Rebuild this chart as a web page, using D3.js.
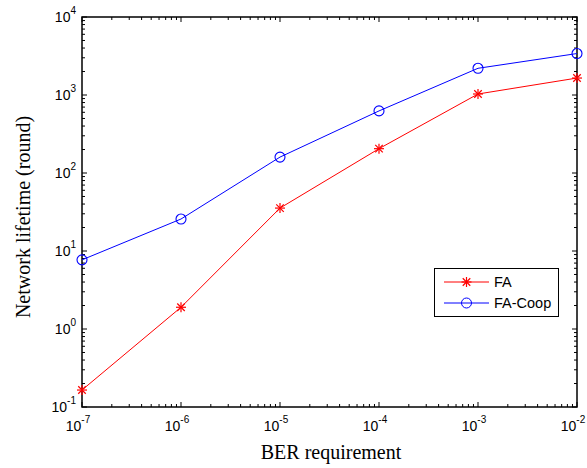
<!DOCTYPE html>
<html>
<head>
<meta charset="utf-8">
<script src="https://cdn.jsdelivr.net/npm/d3@7"></script>
<style>
body { margin: 0; background: #fff; }
svg { display: block; }
.tick-label { font-family: "Liberation Sans", Arial, sans-serif; font-size: 14px; fill: #000; }
.axis-label { font-family: "Liberation Serif", "Times New Roman", serif; font-size: 20px; fill: #000; }
.legend-text { font-family: "Liberation Sans", Arial, sans-serif; font-size: 14.5px; fill: #000; }
</style>
</head>
<body>
<svg id="chart" width="587" height="468"></svg>
<script>
// data
const ber = [1e-7, 1e-6, 1e-5, 1e-4, 1e-3, 1e-2];
const fa = [0.165, 1.9, 35.5, 205, 1030, 1650];
const faCoop = [7.7, 25.7, 160, 625, 2200, 3400];
const xExp = [-7, -6, -5, -4, -3, -2];
const yExp = [-1, 0, 1, 2, 3, 4];

const svg = d3.select("#chart");
const mLeft = 82, mRight = 577, mTop = 17, mBottom = 407;

const x = d3.scaleLog().domain([1e-7, 1e-2]).range([mLeft, mRight]);
const y = d3.scaleLog().domain([1e-1, 1e4]).range([mBottom, mTop]);

svg.append("rect").attr("width", 587).attr("height", 468).attr("fill", "#fff");

// minor + major ticks, inward on all sides
function minors(lo, hi) {
  let out = [];
  for (let e = lo; e < hi; e++)
    for (let k = 2; k <= 9; k++) out.push(k * Math.pow(10, e));
  return out;
}
const xMinor = minors(-7, -2), yMinor = minors(-1, 4);
const tg = svg.append("g").attr("stroke", "#000").attr("stroke-width", 1);

xExp.forEach(e => {
  const px = x(Math.pow(10, e));
  tg.append("line").attr("x1", px).attr("x2", px).attr("y1", mBottom).attr("y2", mBottom - 5);
  tg.append("line").attr("x1", px).attr("x2", px).attr("y1", mTop).attr("y2", mTop + 5);
});
xMinor.forEach(v => {
  const px = x(v);
  tg.append("line").attr("x1", px).attr("x2", px).attr("y1", mBottom).attr("y2", mBottom - 3);
  tg.append("line").attr("x1", px).attr("x2", px).attr("y1", mTop).attr("y2", mTop + 3);
});
yExp.forEach(e => {
  const py = y(Math.pow(10, e));
  tg.append("line").attr("x1", mLeft).attr("x2", mLeft + 5).attr("y1", py).attr("y2", py);
  tg.append("line").attr("x1", mRight).attr("x2", mRight - 5).attr("y1", py).attr("y2", py);
});
yMinor.forEach(v => {
  const py = y(v);
  tg.append("line").attr("x1", mLeft).attr("x2", mLeft + 3).attr("y1", py).attr("y2", py);
  tg.append("line").attr("x1", mRight).attr("x2", mRight - 3).attr("y1", py).attr("y2", py);
});

svg.append("rect")
  .attr("x", mLeft).attr("y", mTop)
  .attr("width", mRight - mLeft).attr("height", mBottom - mTop)
  .attr("fill", "none").attr("stroke", "#000").attr("stroke-width", 1.5);

// tick labels 10^n
xExp.forEach(e => {
  const t = svg.append("text").attr("class", "tick-label")
    .attr("x", x(Math.pow(10, e)) - 4).attr("y", 431).attr("text-anchor", "middle");
  t.append("tspan").text("10");
  t.append("tspan").attr("dy", -8).attr("font-size", 10).text(e);
});
yExp.forEach(e => {
  const t = svg.append("text").attr("class", "tick-label")
    .attr("x", 76).attr("y", y(Math.pow(10, e)) + 5).attr("text-anchor", "end");
  t.append("tspan").text("10");
  t.append("tspan").attr("dy", -8).attr("font-size", 10).text(e);
});

// axis labels
svg.append("text").attr("class", "axis-label")
  .attr("x", 331).attr("y", 459).attr("text-anchor", "middle")
  .text("BER requirement");
svg.append("text").attr("class", "axis-label")
  .attr("transform", `translate(30,${217}) rotate(-90)`)
  .attr("text-anchor", "middle")
  .text("Network lifetime (round)");

// series
const line = d3.line().x(d => x(d[0])).y(d => y(d[1]));
const faPts = ber.map((b, i) => [b, fa[i]]);
const coopPts = ber.map((b, i) => [b, faCoop[i]]);

svg.append("path").datum(coopPts).attr("d", line)
  .attr("fill", "none").attr("stroke", "#0000ff").attr("stroke-width", 1);
svg.append("path").datum(faPts).attr("d", line)
  .attr("fill", "none").attr("stroke", "#ff0000").attr("stroke-width", 1);

function star(g, cx, cy, r) {
  const s = g.append("g").attr("stroke", "#ff0000").attr("stroke-width", 1.2);
  s.append("line").attr("x1", cx - r).attr("x2", cx + r).attr("y1", cy).attr("y2", cy);
  s.append("line").attr("x1", cx).attr("x2", cx).attr("y1", cy - r).attr("y2", cy + r);
  const d = r * 0.75;
  s.append("line").attr("x1", cx - d).attr("x2", cx + d).attr("y1", cy - d).attr("y2", cy + d);
  s.append("line").attr("x1", cx - d).attr("x2", cx + d).attr("y1", cy + d).attr("y2", cy - d);
}

svg.selectAll(".coop").data(coopPts).enter().append("circle")
  .attr("cx", d => x(d[0])).attr("cy", d => y(d[1])).attr("r", 5)
  .attr("fill", "none").attr("stroke", "#0000ff").attr("stroke-width", 1.1);
faPts.forEach(d => star(svg, x(d[0]), y(d[1]), 5));

// legend
const lg = svg.append("g");
lg.append("rect").attr("x", 434.5).attr("y", 268.5).attr("width", 124).attr("height", 48)
  .attr("fill", "#fff").attr("stroke", "#000").attr("stroke-width", 1);
lg.append("line").attr("x1", 444).attr("x2", 489).attr("y1", 282).attr("y2", 282)
  .attr("stroke", "#ff0000");
star(lg, 466.5, 282, 5);
lg.append("text").attr("class", "legend-text").attr("x", 494).attr("y", 287).text("FA");
lg.append("line").attr("x1", 444).attr("x2", 489).attr("y1", 303).attr("y2", 303)
  .attr("stroke", "#0000ff");
lg.append("circle").attr("cx", 466.5).attr("cy", 303).attr("r", 5)
  .attr("fill", "none").attr("stroke", "#0000ff");
lg.append("text").attr("class", "legend-text").attr("x", 494).attr("y", 308).text("FA-Coop");
</script>
</body>
</html>
